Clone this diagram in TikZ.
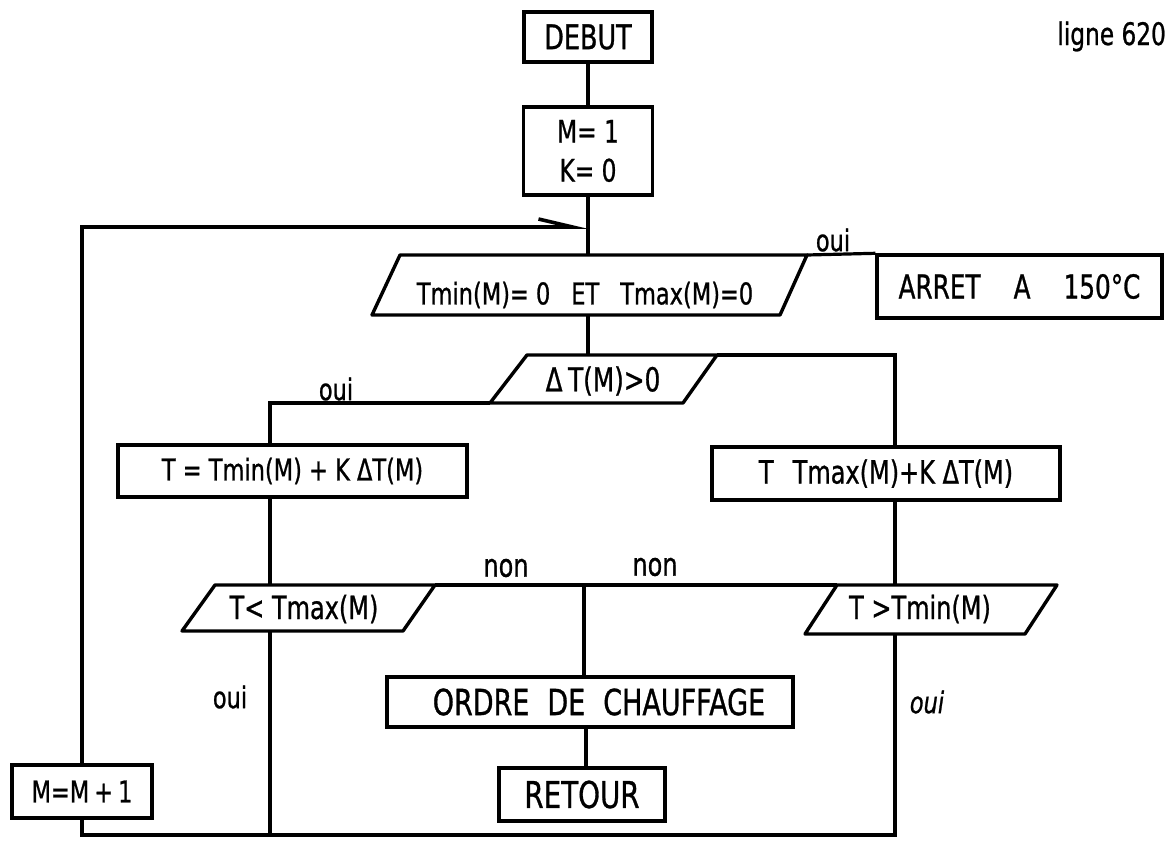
\documentclass[tikz,border=0pt]{standalone}
\usepackage{fontspec}
\setmainfont{DejaVu Sans}[FakeStretch=0.75, FakeBold=0.8]
\usetikzlibrary{arrows.meta}
\newcommand\fz[1]{\fontsize{#1pt}{1.2\dimexpr #1pt\relax}\selectfont}
\begin{document}
\begin{tikzpicture}[x=0.5pt,y=-0.5pt,
  box/.style={draw, line width=1.7pt, inner sep=0pt, align=center},
  par/.style={draw, line width=1.7pt, line join=round},
  conn/.style={line width=1.6pt},
  lbl/.style={inner sep=0pt, font=\fz{15}},
  txt/.style={inner sep=0pt}]
\useasboundingbox (0,0) rectangle (1173,841);
\clip (0,0) rectangle (1173,841);

% column coordinates
\coordinate (colL) at (270,0);
\coordinate (colM) at (586,0);
\coordinate (colR) at (895,0);

% boxes
\node[box, minimum width=64pt, minimum height=25pt, font=\fz{17}] (debut) at (588,37) {DEBUT};
\node[box, minimum width=64.5pt, minimum height=44pt, font={\fontsize{15.5pt}{19.5pt}\selectfont}] (init) at (588,151) {M= 1\\K= 0};
\node[box, minimum width=142.5pt, minimum height=31.5pt, font=\fz{16.5}] (arret) at (1019.5,286.5) {ARRET\hspace{1em}A\hspace{1em}150°C};
\node[box, minimum width=174.5pt, minimum height=26pt, font=\fz{15}] (ttmin) at (292.5,471) {T = Tmin(M) + K ΔT(M)};
\node[box, minimum width=174pt, minimum height=26.5pt, font=\fz{16}] (ttmax) at (886,473.5) {T\hspace{0.6em}Tmax(M)+K ΔT(M)};
\node[box, minimum width=203pt, minimum height=25pt, font=\fz{18}] (ordre) at (590,702) {\hspace{9pt}ORDRE\hspace{0.5em}DE\hspace{0.5em}CHAUFFAGE};
\node[box, minimum width=83pt, minimum height=26.5pt, font=\fz{18.5}] (retour) at (582,794.5) {RETOUR};
\node[box, minimum width=70pt, minimum height=26.5pt, font=\fz{15}] (mm1) at (82,791.5) {M=M\,+\,1};

% parallelograms
\coordinate (p1tl) at (400,255); \coordinate (p1tr) at (807,255);
\coordinate (p1br) at (780,315); \coordinate (p1bl) at (372,315);
\draw[par] (p1tl) -- (p1tr) -- (p1br) -- (p1bl) -- cycle;
\node[txt, font=\fz{15}] (p1) at (585,295) {Tmin(M)= 0\hspace{0.7em}ET\hspace{0.7em}Tmax(M)=0};
\coordinate (p1top) at (588,255); \coordinate (p1bot) at (588,315);

\coordinate (p2tl) at (527,355); \coordinate (p2tr) at (717,355);
\coordinate (p2br) at (683,403); \coordinate (p2bl) at (490,403);
\draw[par] (p2tl) -- (p2tr) -- (p2br) -- (p2bl) -- cycle;
\node[txt, font=\fz{16.5}] (p2) at (603,381) {Δ\,T(M)>0};
\coordinate (p2top) at (588,355);

\coordinate (p3tl) at (215,585); \coordinate (p3tr) at (435,585);
\coordinate (p3br) at (403,631); \coordinate (p3bl) at (182,631);
\draw[par] (p3tl) -- (p3tr) -- (p3br) -- (p3bl) -- cycle;
\node[txt, font=\fz{16}] (p3) at (304,609) {T< Tmax(M)};
\coordinate (p3top) at (270,585); \coordinate (p3bot) at (270,631);

\coordinate (p4tl) at (837,585); \coordinate (p4tr) at (1057,585);
\coordinate (p4br) at (1025,634); \coordinate (p4bl) at (805,634);
\draw[par] (p4tl) -- (p4tr) -- (p4br) -- (p4bl) -- cycle;
\node[txt, font=\fz{16}] (p4) at (920,609) {T >Tmin(M)};
\coordinate (p4top) at (895,585); \coordinate (p4bot) at (895,634);

% junctions
\coordinate (spine) at (588,227);
\coordinate (midj) at (584,585);
\coordinate (botL) at (270,835);
\coordinate (botR) at (895,835);

% connectors
\draw[conn] (debut.south) -- (init.north);
\draw[conn] (init.south) -- (p1top);
\draw[conn, -{Straight Barb[left, length=17pt, width=8pt, line width=1.8pt]}] (mm1.north) |- (spine);
\draw[conn] (p1tr) -- (arret.north west);
\draw[conn] (p1bot) -- (p2top);
\draw[conn] (p2tr) -| (ttmax.north -| colR);
\draw[conn] (p2bl) -| (ttmin.north -| colL);
\draw[conn] (ttmin.south -| colL) -- (p3top);
\draw[conn] (p3tr) -- (p4tl);
\draw[conn] (midj) -- (ordre.north -| midj);
\draw[conn] (ttmax.south -| colR) -- (p4top);
\draw[conn] (ordre.south -| colM) -- (retour.north -| colM);
\draw[conn] (p3bot) -- (botL);
\draw[conn] (p4bot) -- (botR) -| (mm1.south);

% labels
\node[lbl] (oui1) at (833,240) {oui};
\node[lbl] (oui2) at (336,389) {oui};
\node[lbl] (oui3) at (230,697) {oui};
\node[lbl, font=\fz{15}\itshape] (oui4) at (927,702) {oui};
\node[lbl, font=\fz{16}] (non1) at (506,568) {non};
\node[lbl, font=\fz{16}] (non2) at (655,567) {non};
\node[lbl, anchor=base west, font=\fz{15.5}] (ligne) at (1057,45) {ligne 620};
\end{tikzpicture}
\end{document}
